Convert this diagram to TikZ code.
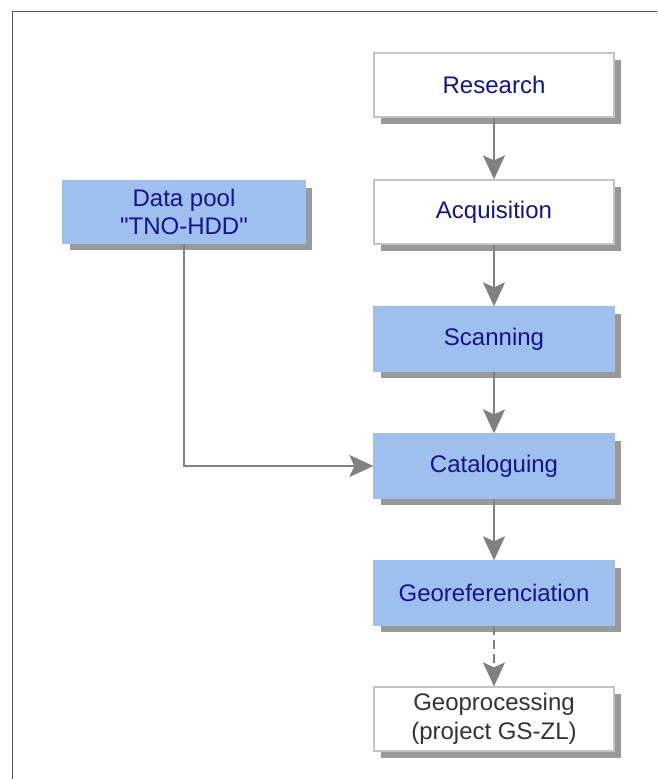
\documentclass[tikz,border=0pt]{standalone}
\usepackage{fontspec}
\setmainfont{Liberation Sans}[Ligatures=TeXOff]
\usetikzlibrary{arrows.meta,shadows}
\definecolor{boxblue}{HTML}{9FBFEE}
\definecolor{txtblue}{HTML}{14148C}
\definecolor{shadowgray}{HTML}{999999}
\definecolor{wborder}{HTML}{C4C4C4}
\definecolor{arrowgray}{HTML}{808080}
\definecolor{framegray}{HTML}{555555}
\tikzset{
  basebox/.style={rectangle, minimum width=240pt, minimum height=64pt, inner sep=0pt,
    align=center, font=\fontsize{24}{28.5}\selectfont, line width=1.3pt,
    drop shadow={shadow xshift=7pt, shadow yshift=-7pt, fill=shadowgray, opacity=1}},
  whitebox/.style={basebox, fill=white, draw=wborder, text=txtblue},
  bluebox/.style={basebox, fill=boxblue, draw=boxblue, text=txtblue},
  graybox/.style={basebox, fill=white, draw=wborder, text=black!80},
  flowarrow/.style={draw=arrowgray, line width=2pt,
    -{Stealth[length=24pt,width=22pt,inset=5pt]}},
  frameline/.style={draw=framegray, line width=1.6pt}
}
\begin{document}
\begin{tikzpicture}[x=1pt,y=-1pt]
\useasboundingbox (0,0) rectangle (657,779);
\coordinate (ftl) at (12.5,11.5);
\coordinate (ftr) at (657,11.5);
\coordinate (fbl) at (12.5,779);
\draw[frameline] (ftr) -- (ftl) -- (fbl);

\node[whitebox] (research) at (494,85) {Research};
\node[whitebox] (acq) at (494,212) {Acquisition};
\node[bluebox] (scan) at (494,339) {Scanning};
\node[bluebox] (cat) at (494,466) {Cataloguing};
\node[bluebox] (geo) at (494,593) {Georeferenciation};
\node[graybox] (geoproc) at (494,719) {Geoprocessing\\(project GS-ZL)};
\node[bluebox, minimum width=242pt, minimum height=62pt] (pool) at (184,212) {Data pool\\"TNO-HDD"};

\draw[flowarrow] (research.south) -- (acq.north);
\draw[flowarrow] (acq.south) -- (scan.north);
\draw[flowarrow] (scan.south) -- (cat.north);
\draw[flowarrow] (cat.south) -- (geo.north);
\draw[flowarrow, dash pattern=on 9pt off 5pt] (geo.south) -- (geoproc.north);
\draw[flowarrow] (pool.south) |- (cat.west);
\end{tikzpicture}
\end{document}
